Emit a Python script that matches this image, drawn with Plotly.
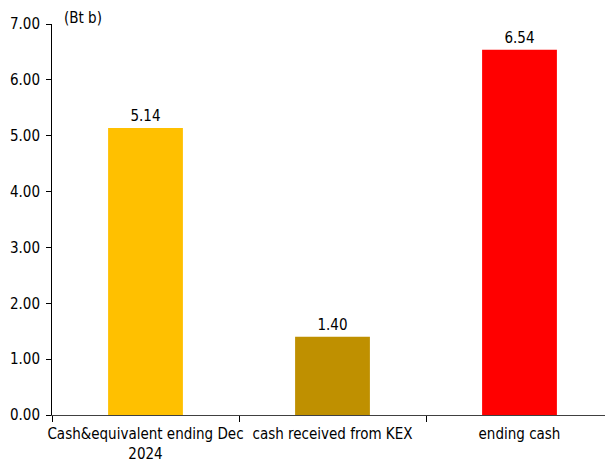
import plotly.graph_objects as go

categories = ["Cash&equivalent ending Dec<br>2024", "cash received from KEX", "ending cash"]
values = [5.14, 1.40, 6.54]
colors = ["#FFC000", "#BF9000", "#FF0000"]
y_ticks = [0, 1, 2, 3, 4, 5, 6, 7]
y_tick_labels = ["%.2f" % v for v in y_ticks]
unit_label = "(Bt b)"

FONT = "DejaVu Sans Condensed, Liberation Sans Narrow, sans-serif"

fig = go.Figure(go.Bar(
    x=categories, y=values, marker=dict(color=colors, line=dict(width=0)),
    width=0.4, text=["%.2f" % v for v in values], textposition="outside",
    textfont=dict(family=FONT, size=15, color="#000000"), cliponaxis=False,
))

fig.update_layout(
    width=613, height=473,
    margin=dict(l=44, r=8, t=16, b=66, autoexpand=False),
    plot_bgcolor="white", paper_bgcolor="white",
    font=dict(family=FONT, size=15, color="#000000"),
    showlegend=False,
    bargap=0.6,
)
fig.update_yaxes(
    range=[0, 7], tickvals=y_ticks, ticktext=y_tick_labels, automargin=False,
    showgrid=False, zeroline=False, showline=True, linecolor="#000000", linewidth=1,
    ticks="outside", ticklen=5, tickcolor="#000000", ticklabelstandoff=3,
)
fig.update_xaxes(
    showgrid=False, showline=True, linecolor="#404040", linewidth=1, automargin=False,
    tickangle=0, ticks="outside", tickson="boundaries", ticklen=6, tickcolor="#000000",
    ticklabelstandoff=5,
)
fig.add_annotation(
    text=unit_label, xref="paper", yref="paper", x=0.018, y=1.0, yshift=6,
    xanchor="left", yanchor="middle", showarrow=False,
    font=dict(family=FONT, size=15, color="#000000"),
)

fig.write_html("out.html")
